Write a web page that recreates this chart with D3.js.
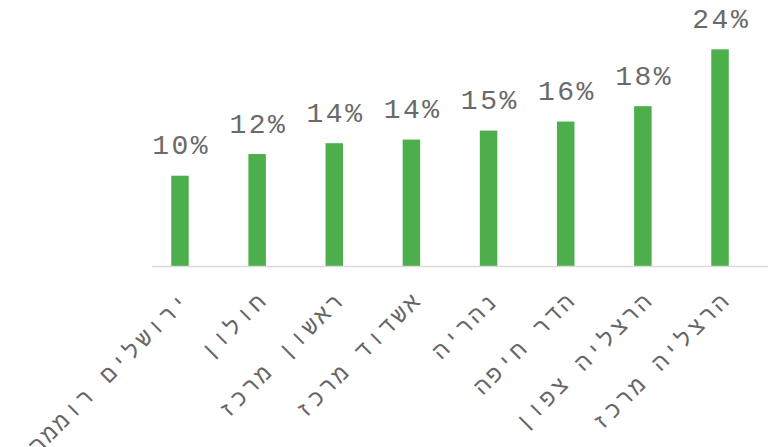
<!DOCTYPE html>
<html>
<head>
<meta charset="utf-8">
<script src="https://cdn.jsdelivr.net/npm/d3@7"></script>
<style>
  html, body { margin: 0; padding: 0; background: #ffffff; }
  svg { display: block; }
</style>
</head>
<body>
<svg id="chart" width="770" height="447"></svg>
<script>
// Branch names (x-axis categories)
const categories = [
  "ירושלים רוממה",
  "חולון",
  "ראשון מרכז",
  "אשדוד מרכז",
  "נהריה",
  "הדר חיפה",
  "הרצליה צפון",
  "הרצליה מרכז"
];
// Share per branch, in percent
const values = [10.0, 12.4, 13.6, 14.0, 15.0, 16.0, 17.7, 24.0];

const svg = d3.select("#chart");
const fontFamily = "'Liberation Mono', 'Courier New', monospace";

const baseY = 266;
const x = d3.scaleBand()
  .domain(categories)
  .range([141.4, 758.6])
  .paddingInner(0.77)
  .paddingOuter(0.385);

const y = d3.scaleLinear()
  .domain([0, 24])
  .range([baseY, 49.3]);

const fmt = v => d3.format(".0f")(v) + "%";
const center = d => x(d) + x.bandwidth() / 2;

// Bars
svg.append("g")
  .selectAll("rect")
  .data(values)
  .join("rect")
  .attr("x", (d, i) => center(categories[i]) - 8.75)
  .attr("width", 17.5)
  .attr("y", d => y(d))
  .attr("height", d => baseY - y(d))
  .attr("fill", "#4caf4c");

// Category axis line
svg.append("line")
  .attr("x1", 152).attr("x2", 768)
  .attr("y1", baseY + 0.5).attr("y2", baseY + 0.5)
  .attr("stroke", "#d9d9d9")
  .attr("stroke-width", 1.6);

// Value labels above bars
svg.append("g")
  .selectAll("text")
  .data(values)
  .join("text")
  .attr("x", (d, i) => center(categories[i]) + 1.25)
  .attr("y", d => y(d) - 21.5)
  .attr("text-anchor", "middle")
  .attr("font-family", fontFamily)
  .attr("font-size", 28)
  .attr("letter-spacing", 2.5)
  .attr("fill", "#6a6a6a")
  .text(d => fmt(d));

// Rotated category labels
svg.append("g")
  .selectAll("text")
  .data(categories)
  .join("text")
  .attr("transform", d => `translate(${center(d) + 12},${baseY + 35}) rotate(-45)`)
  .attr("text-anchor", "end")
  .attr("font-family", fontFamily)
  .attr("font-size", 23)
  .attr("letter-spacing", 3)
  .attr("fill", "#666666")
  .text(d => d);
</script>
</body>
</html>
